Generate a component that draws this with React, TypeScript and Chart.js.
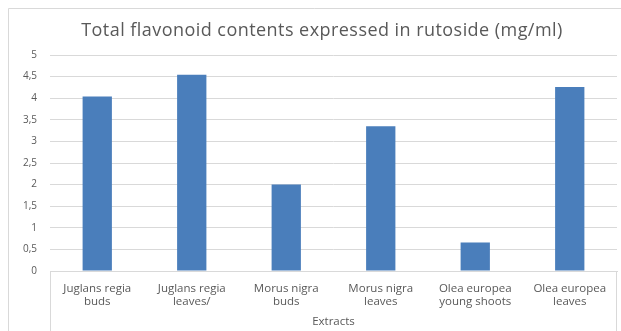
import React, { useEffect, useRef } from "react";
import { Chart, registerables } from "chart.js";

Chart.register(...registerables);

// Extract names, split over two lines as on the category axis
const categories: string[][] = [
  ["Juglans regia", "buds"],
  ["Juglans regia", "leaves/"],
  ["Morus nigra", "buds"],
  ["Morus nigra", "leaves"],
  ["Olea europea", "young shoots"],
  ["Olea europea", "leaves"],
];

// Total flavonoid content, mg/ml rutoside equivalents
const flavonoidValues: number[] = [4.04, 4.54, 2.0, 3.35, 0.66, 4.26];

const chartTitle = "Total flavonoid contents expressed in rutoside (mg/ml)";
const xAxisTitle = "Extracts";
const yMin = 0;
const yMax = 5;
const yStep = 0.5;

const FONT = "'Open Sans', Lato, sans-serif";
const TEXT = "#595959";
const LINE = "#d9d9d9";
const BAR = "#4a7ebb";

// White background, outer chart frame (which runs past the right edge),
// the chart title centred in that frame, and the boxed category-axis area
const framePlugin = {
  id: "frame",
  beforeDraw(chart: Chart) {
    const { ctx, width, height } = chart;
    ctx.save();
    ctx.fillStyle = "#ffffff";
    ctx.fillRect(0, 0, width, height);
    ctx.restore();
  },
  afterDraw(chart: Chart) {
    const { ctx, chartArea, width, height } = chart;
    ctx.save();
    ctx.strokeStyle = LINE;
    ctx.lineWidth = 1;
    ctx.beginPath();
    ctx.moveTo(8.5, height);
    ctx.lineTo(8.5, 8.5);
    ctx.lineTo(width, 8.5);
    const l = Math.round(chartArea.left) + 0.5;
    const r = Math.round(chartArea.right) - 0.5;
    ctx.moveTo(l, chartArea.bottom);
    ctx.lineTo(l, height);
    ctx.moveTo(r, chartArea.bottom);
    ctx.lineTo(r, height);
    ctx.stroke();

    ctx.fillStyle = TEXT;
    ctx.font = `normal 18px ${FONT}`;
    ctx.textAlign = "center";
    ctx.textBaseline = "middle";
    (ctx as any).letterSpacing = "0.45px";
    ctx.fillText(chartTitle, 322, 31);
    ctx.restore();
  },
};

export default function App() {
  const canvasRef = useRef<HTMLCanvasElement | null>(null);

  useEffect(() => {
    if (!canvasRef.current) return;
    const chart = new Chart(canvasRef.current, {
      type: "bar",
      data: {
        labels: categories,
        datasets: [
          {
            data: flavonoidValues,
            backgroundColor: BAR,
            borderWidth: 0,
            categoryPercentage: 1,
            barPercentage: 0.31,
          },
        ],
      },
      options: {
        animation: false,
        responsive: true,
        maintainAspectRatio: false,
        layout: { padding: { left: 0, right: 4, top: 55, bottom: 0 } },
        plugins: {
          legend: { display: false },
          tooltip: { enabled: false },
          title: { display: false },
        },
        scales: {
          x: {
            grid: { display: false, drawTicks: false },
            border: { display: true, color: LINE, width: 1 },
            ticks: {
              color: TEXT,
              font: { family: FONT, size: 11.5, lineHeight: 1.13 },
              padding: 11.5,
              maxRotation: 0,
              autoSkip: false,
            },
            title: {
              display: true,
              text: xAxisTitle,
              color: TEXT,
              font: { family: FONT, size: 11.5, lineHeight: 1.2 },
              padding: { top: 0, bottom: 2 },
            },
            afterFit(scale: any) {
              scale.height = 60;
            },
          },
          y: {
            min: yMin,
            max: yMax,
            grid: { color: LINE, drawTicks: false, lineWidth: 1 },
            border: { display: false },
            ticks: {
              stepSize: yStep,
              color: TEXT,
              font: { family: FONT, size: 10 },
              padding: 13,
              callback: (v: any) => String(v).replace(".", ","),
            },
            afterFit(scale: any) {
              scale.width = 50;
            },
          },
        },
      },
      plugins: [framePlugin],
    });
    return () => chart.destroy();
  }, []);

  return (
    <div style={{ position: "fixed", left: 0, top: 0, width: 621, height: 331, background: "#fff" }}>
      <canvas ref={canvasRef} />
    </div>
  );
}
